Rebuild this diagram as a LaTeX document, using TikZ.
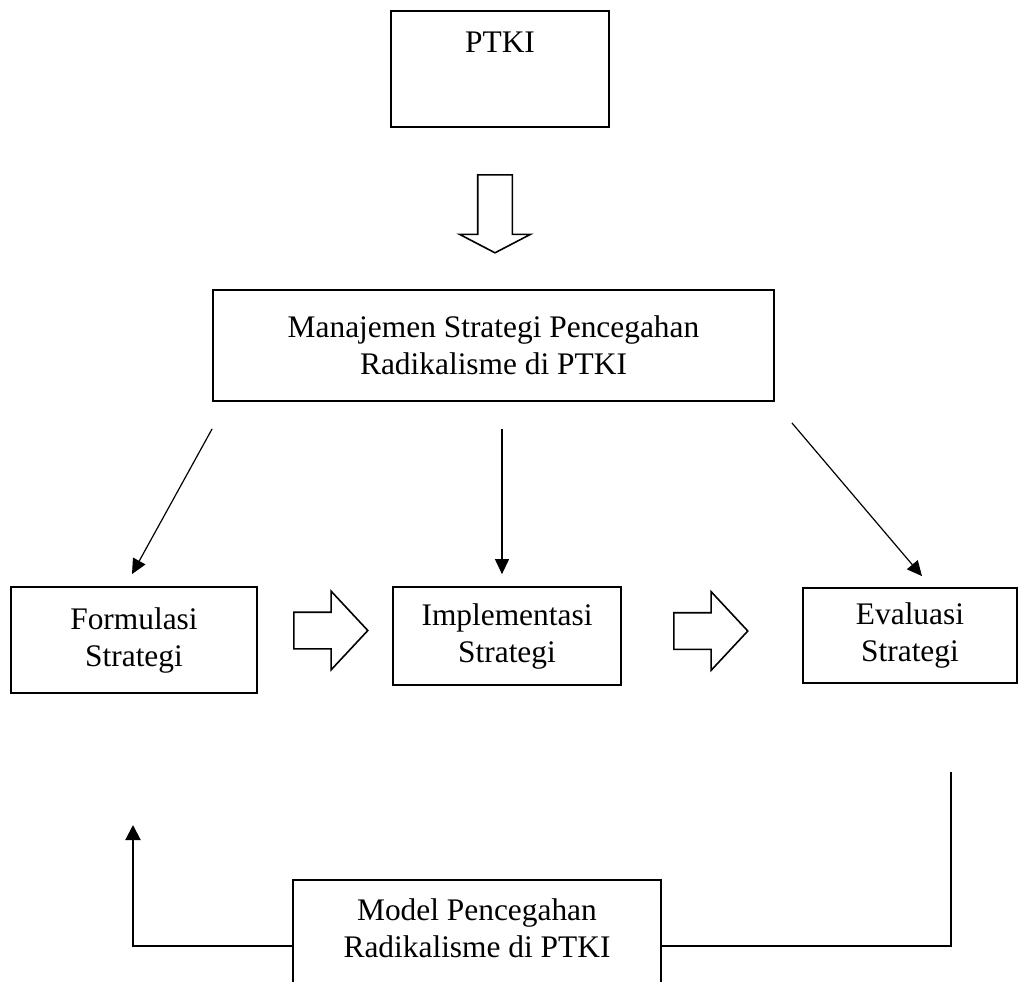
\documentclass[tikz,border=0pt]{standalone}
\usepackage{fontspec}
\setmainfont{Liberation Serif}
\usetikzlibrary{arrows.meta,shapes.arrows}
\tikzset{
	x=0.5pt, y=-0.5pt,
	kotak/.style = {
		shape=rectangle,
		draw,
		line width=0.9pt,
		align=center,
		font=\fontsize{15.7}{18.5}\selectfont
	},
	judul/.style = {
		anchor=north,
		inner sep=0pt,
		align=center,
		font=\fontsize{15.7}{18.5}\selectfont
	},
	panah/.style = {
		single arrow,
		draw,
		line width=0.8pt,
		inner sep=8.75pt,
		single arrow head extend=10.5pt,
		single arrow tip angle=94,
		minimum height=37pt,
		anchor=tail
	},
	garis/.style = {
		line width=0.6pt,
		-{Triangle[length=7.5pt,width=7pt]}
	}
}
\begin{document}
\begin{tikzpicture}
	\useasboundingbox (0,0) rectangle (1025,982);
	\clip (0,0) rectangle (1025,982);
	\node[kotak, minimum width=109pt, minimum height=58pt,
		label={[judul, yshift=-10.5pt]north:PTKI}] (ptki) at (500,69) {};
	\node[panah, rotate=-90, inner sep=8.25pt, single arrow head extend=9pt,
		single arrow tip angle=125, minimum height=39pt] (turun) at (495,174) {};
	\node[kotak, minimum width=280.5pt, minimum height=55.5pt] (man) at (493.5,345.5)
		{Manajemen Strategi Pencegahan\\Radikalisme di PTKI};
	\node[kotak, minimum width=123pt, minimum height=53pt] (form) at (134,640) {Formulasi\\Strategi};
	\node[kotak, minimum width=114pt, minimum height=49pt] (imp) at (507,636) {Implementasi\\Strategi};
	\node[kotak, minimum width=107pt, minimum height=47.5pt] (eval) at (910,635.5) {Evaluasi\\Strategi};
	\node[panah] (lanjut1) at (293,630.5) {};
	\node[panah] (lanjut2) at (673,631) {};
	\node[kotak, anchor=north, minimum width=184pt, minimum height=66pt,
		label={[judul, yshift=-9.75pt]north:{Model Pencegahan\\Radikalisme di PTKI}}] (model) at (477,879) {};
	\coordinate (balik) at (133,825);
	\coordinate (ujung) at (951,772);

	\draw[garis] ([yshift=-13.5pt]man.south west) -- ([xshift=-1pt,yshift=6pt]form.north);
	\draw[garis] ([xshift=4.25pt,yshift=-13.5pt]man.south) -- ([xshift=-2.5pt,yshift=6pt]imp.north);
	\draw[garis] ([xshift=8.5pt,yshift=-10.5pt]man.south east) -- ([xshift=6pt,yshift=5.5pt]eval.north);
	\draw[garis, line width=1pt, -{Triangle[length=7.5pt,width=7.5pt]}] (model.west) -| (balik);
	\draw[line width=1pt] (model.east) -| (ujung);
\end{tikzpicture}
\end{document}
